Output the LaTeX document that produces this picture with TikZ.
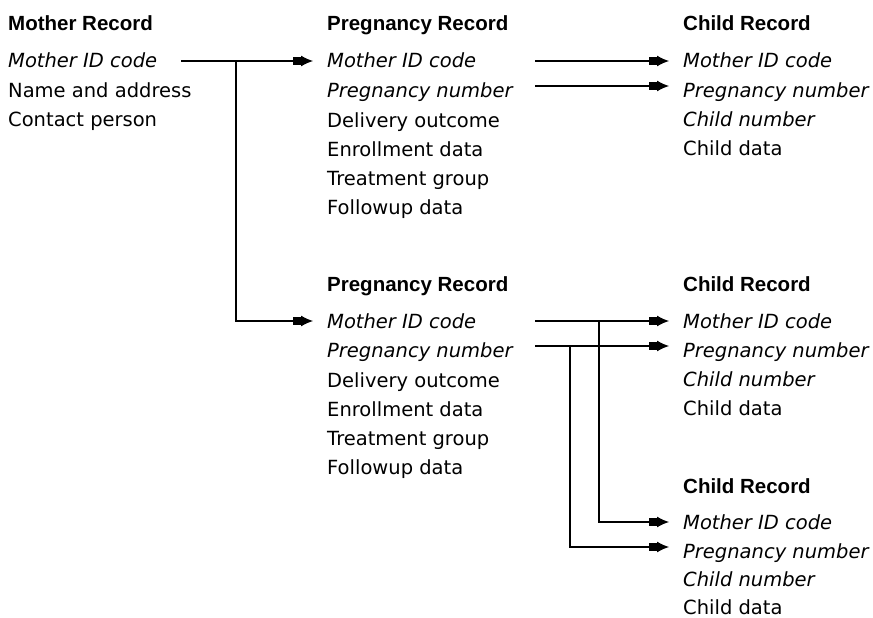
\documentclass[tikz,border=0pt]{standalone}
\usepackage{fontspec}
\setmainfont{DejaVu Sans}
\newfontfamily\headfont{Liberation Sans}
\usetikzlibrary{arrows.meta}

\begin{document}
\begin{tikzpicture}[x=1pt,y=-1pt,line cap=butt,line join=miter,
	title/.style={anchor=base west,inner sep=0pt,font=\headfont\bfseries\fontsize{20.5}{24}\selectfont},
	item/.style={anchor=base west,inner sep=0pt,text height=14pt,text depth=0pt,font=\fontsize{19.5}{23}\selectfont},
	key/.style={item,font=\itshape\fontsize{19.5}{23}\selectfont},
	link/.style={line width=1.2pt,-{Rectangle[length=8pt,width=8pt]Latex[length=12pt,width=11pt]}}]
		\useasboundingbox (0,0) rectangle (873,618);
		% mother record
		\node[title] (m-title) at (8,31) {Mother Record};
		\node[key] (m-id) at (8,68) {Mother ID code};
		\node[item] (m-name) at (8,97) {Name and address};
		\node[item] (m-contact) at (8,126) {Contact person};
		% first pregnancy record
		\node[title] (p1-title) at (327,31) {Pregnancy Record};
		\node[key] (p1-id) at (327,68) {Mother ID code};
		\node[key] (p1-pn) at (327,97) {Pregnancy number};
		\node[item] (p1-out) at (327,127) {Delivery outcome};
		\node[item] (p1-enr) at (327,156) {Enrollment data};
		\node[item] (p1-treat) at (327,185) {Treatment group};
		\node[item] (p1-fol) at (327,214) {Followup data};
		% child of first pregnancy
		\node[title] (c1-title) at (683,31) {Child Record};
		\node[key] (c1-id) at (683,68) {Mother ID code};
		\node[key] (c1-pn) at (683,97) {Pregnancy number};
		\node[key] (c1-cn) at (683,126) {Child number};
		\node[item] (c1-data) at (683,155) {Child data};
		% second pregnancy record
		\node[title] (p2-title) at (327,291) {Pregnancy Record};
		\node[key] (p2-id) at (327,328) {Mother ID code};
		\node[key] (p2-pn) at (327,357) {Pregnancy number};
		\node[item] (p2-out) at (327,387) {Delivery outcome};
		\node[item] (p2-enr) at (327,416) {Enrollment data};
		\node[item] (p2-treat) at (327,445) {Treatment group};
		\node[item] (p2-fol) at (327,474) {Followup data};
		% children of second pregnancy
		\node[title] (c2-title) at (683,291) {Child Record};
		\node[key] (c2-id) at (683,328) {Mother ID code};
		\node[key] (c2-pn) at (683,357) {Pregnancy number};
		\node[key] (c2-cn) at (683,386) {Child number};
		\node[item] (c2-data) at (683,415) {Child data};
		\node[title] (c3-title) at (683,493) {Child Record};
		\node[key] (c3-id) at (683,529) {Mother ID code};
		\node[key] (c3-pn) at (683,558) {Pregnancy number};
		\node[key] (c3-cn) at (683,586) {Child number};
		\node[item] (c3-data) at (683,614) {Child data};
		% links
		\draw[link] ([xshift=173pt]m-id.west) -- ([xshift=-14pt]p1-id.west);
		\draw[link] ([xshift=228pt]m-id.west) |- ([xshift=-14pt]p2-id.west);
		\draw[link] ([xshift=208pt]p1-id.west) -- ([xshift=-14pt]c1-id.west);
		\draw[link] ([xshift=208pt,yshift=4pt]p1-pn.west) -- ([xshift=-14pt,yshift=4pt]c1-pn.west);
		\draw[link] ([xshift=208pt]p2-id.west) -- ([xshift=-14pt]c2-id.west);
		\draw[link] ([xshift=208pt,yshift=4pt]p2-pn.west) -- ([xshift=-14pt,yshift=4pt]c2-pn.west);
		\draw[link] ([xshift=272pt]p2-id.west) |- ([xshift=-14pt]c3-id.west);
		\draw[link] ([xshift=243pt,yshift=4pt]p2-pn.west) |- ([xshift=-14pt,yshift=4pt]c3-pn.west);
\end{tikzpicture}
\end{document}
